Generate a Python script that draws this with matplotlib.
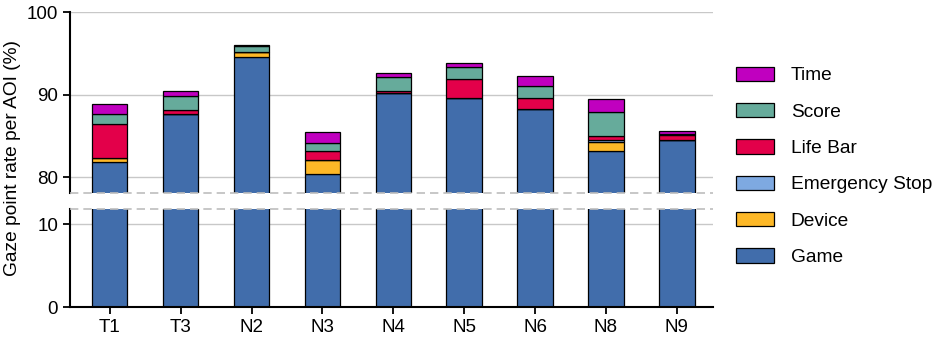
import matplotlib
matplotlib.use("Agg")
import matplotlib.pyplot as plt
import numpy as np

plt.rcParams['font.family'] = ['Liberation Sans', 'DejaVu Sans']

# gaze point rate per AOI (%)
participants = ["T1", "T3", "N2", "N3", "N4", "N5", "N6", "N8", "N9"]
game = [81.9, 87.6, 94.6, 80.4, 90.2, 89.6, 88.3, 83.2, 84.5]
device = [0.4, 0.05, 0.5, 1.65, 0.0, 0.0, 0.0, 1.1, 0.0]
emergency_stop = [0.0, 0.0, 0.0, 0.0, 0.0, 0.0, 0.0, 0.25, 0.0]
life_bar = [4.1, 0.5, 0.05, 1.15, 0.3, 2.35, 1.35, 0.4, 0.65]
score = [1.25, 1.65, 0.75, 0.95, 1.6, 1.35, 1.35, 3.0, 0.05]
time_aoi = [1.25, 0.65, 0.1, 1.35, 0.55, 0.5, 1.25, 1.5, 0.4]

series = [
    ("Game", game, "#416dab"),
    ("Device", device, "#fdb827"),
    ("Emergency Stop", emergency_stop, "#7ea9e1"),
    ("Life Bar", life_bar, "#e3004a"),
    ("Score", score, "#66ab9b"),
    ("Time", time_aoi, "#c000bf"),
]

fig = plt.figure(figsize=(9.35, 3.39), dpi=100)
left, right = 0.0749, 0.7626
ax_top = fig.add_axes([left, 0.4307, right - left, 0.9646 - 0.4307])
ax_bot = fig.add_axes([left, 0.0935, right - left, 0.3844 - 0.0935])

x = np.arange(len(participants))
grid_c = "#c8c8c8"

for ax in (ax_top, ax_bot):
    bottom = np.zeros(len(participants))
    for name, vals, col in series:
        vals = np.array(vals)
        ax.bar(x, vals, 0.5, bottom=bottom, color=col, edgecolor="black",
               linewidth=0.9, label=name, zorder=2)
        bottom += vals
    ax.set_xlim(-0.56, 8.51)
    ax.yaxis.grid(True, color=grid_c, linewidth=1.0, zorder=0)
    ax.set_axisbelow(True)
    for s in ("top", "right"):
        ax.spines[s].set_visible(False)
    ax.spines["left"].set_linewidth(1.5)
    ax.tick_params(axis="both", labelsize=13.5, width=1.3, length=5, color="black")

ax_top.set_ylim(78.1, 100)
ax_top.set_yticks([80, 90, 100])
ax_top.spines["bottom"].set_visible(False)
ax_top.tick_params(axis="x", bottom=False, labelbottom=False)

ax_bot.set_ylim(0, 11.9)
ax_bot.set_yticks([0, 10])
ax_bot.spines["bottom"].set_linewidth(1.5)
ax_bot.set_xticks(x)
ax_bot.set_xticklabels(participants)

# broken axis marks
ax_top.axhline(78.1, color="#bdbdbd", linestyle=(0, (5, 3)), linewidth=1.2, zorder=3, clip_on=False)
ax_bot.axhline(11.9, color="#bdbdbd", linestyle=(0, (5, 3)), linewidth=1.2, zorder=3, clip_on=False)

fig.text(0.013, 0.534, "Gaze point rate per AOI (%)", rotation=90, fontsize=13.8,
         ha="center", va="center")

handles, labels = ax_top.get_legend_handles_labels()
fig.legend(handles[::-1], labels[::-1], loc="upper left", bbox_to_anchor=(0.779, 0.826),
           frameon=False, fontsize=13.8, handlelength=2.0, handleheight=0.76,
           handletextpad=0.85, labelspacing=0.97, borderaxespad=0)

fig.savefig("out.png", dpi=100)
